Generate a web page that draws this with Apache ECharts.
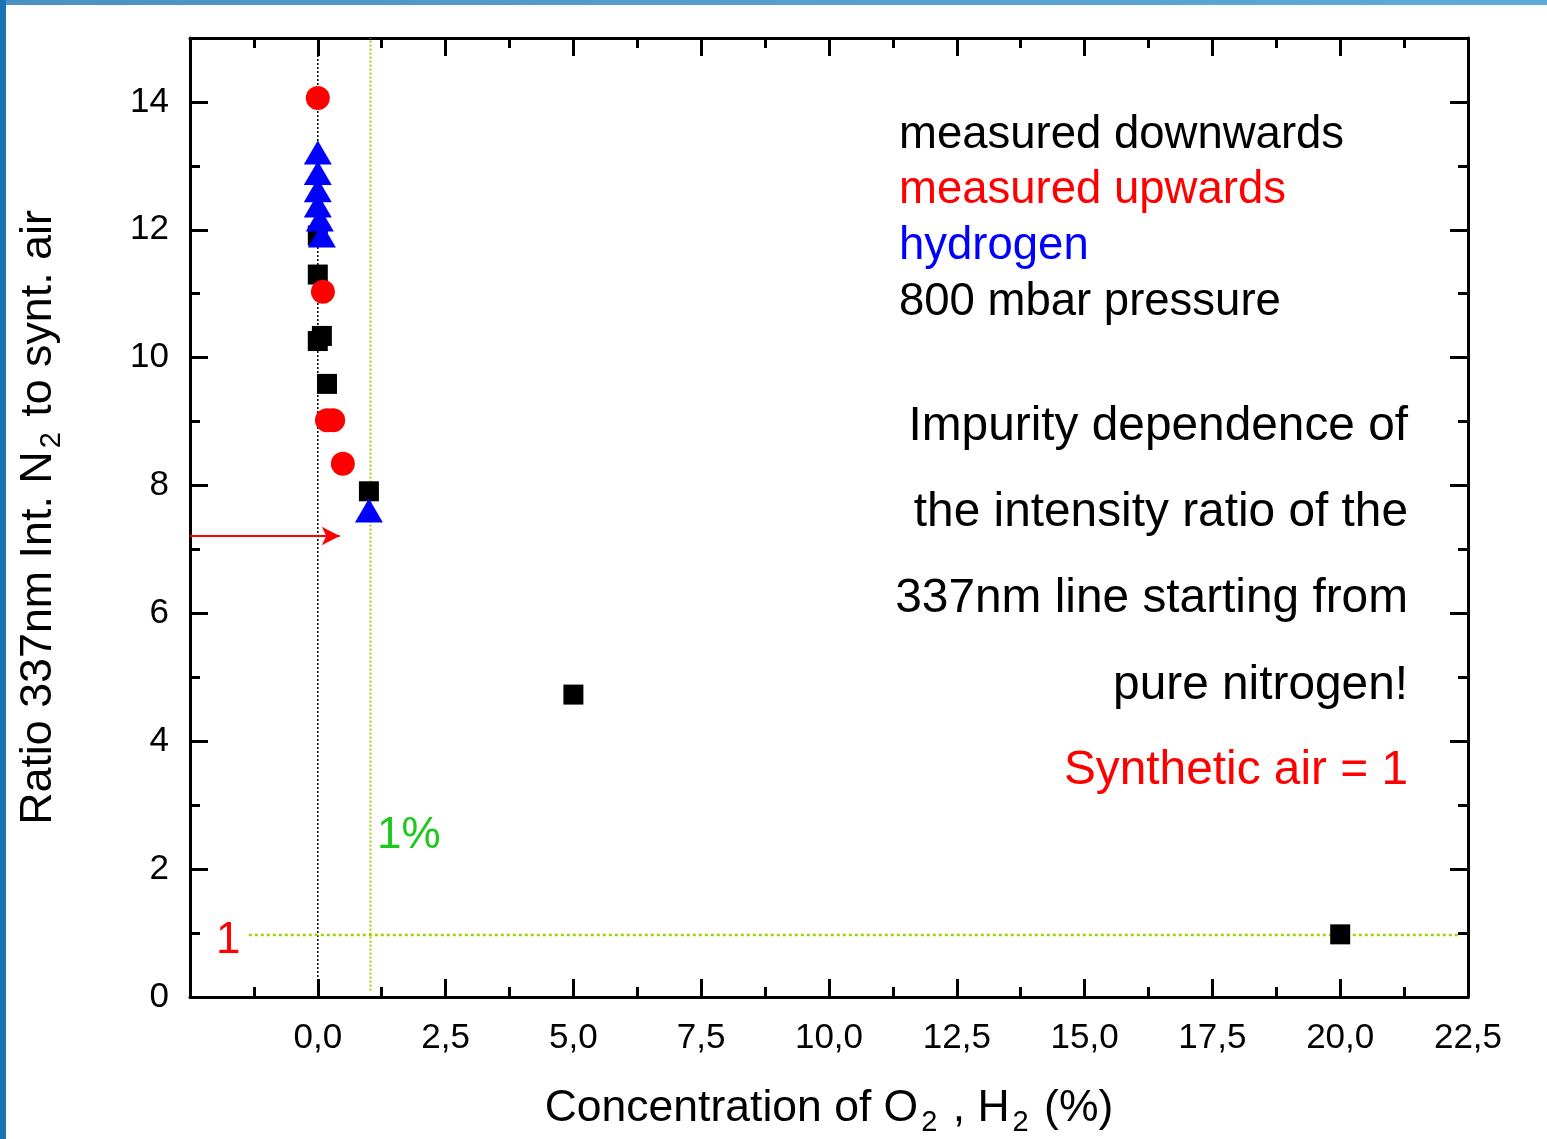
<!DOCTYPE html>
<html>
<head>
<meta charset="utf-8">
<script src="https://cdn.jsdelivr.net/npm/echarts@6/dist/echarts.min.js"></script>
<style>
html,body{margin:0;padding:0;background:#fff;}
#chart{position:absolute;left:0;top:0;width:1547px;height:1139px;}
#topbar{position:absolute;left:0;top:0;width:1547px;height:5px;background:linear-gradient(90deg,#4a92c6,#5eaadb);z-index:2;}
#leftbar{position:absolute;left:0;top:0;width:6px;height:1139px;background:#1a74b3;z-index:2;}
</style>
</head>
<body>
<div id="chart"></div>
<div id="topbar"></div>
<div id="leftbar"></div>
<script>
// ---- data ----
const downX = [0, 0, 0.08, 0, 0.18, 1.0, 5.0, 20.0];
const downY = [11.91, 11.30, 10.34, 10.26, 9.59, 7.91, 4.73, 0.98];
const upX = [0, 0.1, 0.18, 0.3, 0.49];
const upY = [14.06, 11.03, 9.02, 9.02, 8.34];
const h2X = [0, 0, 0, 0, 0.04, 0.08, 1.0];
const h2Y = [13.21, 12.89, 12.62, 12.38, 12.16, 11.91, 7.61];
const zeroLine = [[0, 0], [0, 15]];
const onePctLine = [[1.03, 0.1], [1.03, 15]];
const unityLine = [[-1.35, 0.97], [22.35, 0.97]];
const arrowFrom = [-2.5, 7.21];
const arrowTo = [0.43, 7.21];
const legendLines = ['measured downwards', 'measured upwards', 'hydrogen', '800 mbar pressure'];
const noteLines = ['Impurity dependence of', 'the intensity ratio of the', '337nm line starting from', 'pure nitrogen!', 'Synthetic air = 1'];

const zip = (xs, ys) => xs.map((x, i) => [x, ys[i]]);
const FONT = '"Liberation Sans", Arial, sans-serif';

const chart = echarts.init(document.getElementById('chart'), null, {renderer: 'canvas'});

const axisCommon = {
  axisLine: {show: true, onZero: false, lineStyle: {color: '#000', width: 3}},
  axisTick: {show: true, inside: true, length: 18, lineStyle: {color: '#000', width: 3}},
  minorTick: {show: true, splitNumber: 2, length: 10, lineStyle: {color: '#000', width: 3}},
  splitLine: {show: false},
  minorSplitLine: {show: false}
};

const fmtX = v => (Math.abs(v + 2.5) < 1e-6) ? '' : v.toFixed(1).replace('.', ',');

chart.setOption({
  animation: false,
  grid: {left: 190, right: 79, top: 38, bottom: 142, containLabel: false, outerBoundsMode: 'none'},
  xAxis: [
    Object.assign({}, axisCommon, {
      type: 'value', min: -2.5, max: 22.5, interval: 2.5, position: 'bottom',
      axisLabel: {show: true, formatter: fmtX, margin: 24, color: '#000', fontSize: 35, fontFamily: FONT},
      name: 'Concentration of O{sub|2} , H{sub|2} (%)',
      nameLocation: 'middle', nameGap: 83,
      nameTextStyle: {color: '#000', fontSize: 44.5, fontFamily: FONT,
        rich: {sub: {fontSize: 29, fontFamily: FONT, color: '#000', padding: [28, 3, 0, 3]}}}
    }),
    Object.assign({}, axisCommon, {
      type: 'value', min: -2.5, max: 22.5, interval: 2.5, position: 'top',
      axisLabel: {show: false}
    })
  ],
  yAxis: [
    Object.assign({}, axisCommon, {
      type: 'value', min: 0, max: 15, interval: 2, position: 'left',
      axisLabel: {show: true, margin: 21, color: '#000', fontSize: 35, fontFamily: FONT,
        formatter: v => (v > 14 ? '' : String(v))},
      name: 'Ratio 337nm Int. N{sub|2} to synt. air',
      nameLocation: 'middle', nameGap: 124, nameRotate: 90,
      nameTextStyle: {color: '#000', fontSize: 44.8, fontFamily: FONT,
        rich: {sub: {fontSize: 29, fontFamily: FONT, color: '#000', padding: [26, 3, 0, 3]}}}
    }),
    Object.assign({}, axisCommon, {
      type: 'value', min: 0, max: 15, interval: 2, position: 'right',
      axisLabel: {show: false}
    })
  ],
  series: [
    {
      type: 'line', data: zeroLine, symbol: 'none', silent: true,
      lineStyle: {color: '#000', width: 1.5, type: [2, 2]}, z: 1
    },
    {
      type: 'line', data: onePctLine, symbol: 'none', silent: true,
      lineStyle: {color: '#a2d000', width: 2, type: [2, 2]}, z: 1
    },
    {
      type: 'line', data: unityLine, symbol: 'none', silent: true,
      lineStyle: {color: '#a2d000', width: 2.5, type: [3, 3]}, z: 1,
      markLine: {
        silent: true, symbol: ['none', 'arrow'], symbolSize: [14, 18],
        label: {show: false},
        lineStyle: {color: '#ff0000', width: 2, type: 'solid'},
        data: [[{coord: arrowFrom}, {coord: arrowTo}]]
      }
    },
    {
      name: 'measured downwards', type: 'scatter', data: zip(downX, downY),
      symbol: 'rect', symbolSize: 20, itemStyle: {color: '#000', opacity: 1}, z: 3
    },
    {
      name: 'measured upwards', type: 'scatter', data: zip(upX, upY),
      symbol: 'circle', symbolSize: 24, itemStyle: {color: '#ff0000', opacity: 1}, z: 4
    },
    {
      name: 'hydrogen', type: 'scatter', data: zip(h2X, h2Y),
      symbol: 'triangle', symbolSize: [28, 24], itemStyle: {color: '#0000ff', opacity: 1}, z: 5
    }
  ],
  graphic: [
    {type: 'text', left: 899, top: 112, style: {text: legendLines[0], font: '45.5px ' + FONT, fill: '#000'}},
    {type: 'text', left: 899, top: 167, style: {text: legendLines[1], font: '45.5px ' + FONT, fill: '#ff0000'}},
    {type: 'text', left: 899, top: 223, style: {text: legendLines[2], font: '45.5px ' + FONT, fill: '#0000ff'}},
    {type: 'text', left: 899, top: 279, style: {text: legendLines[3], font: '45.5px ' + FONT, fill: '#000'}},
    {type: 'text', right: 1547 - 1408, top: 403, style: {text: noteLines[0], font: '47.8px ' + FONT, fill: '#000'}},
    {type: 'text', right: 1547 - 1408, top: 489, style: {text: noteLines[1], font: '47.8px ' + FONT, fill: '#000'}},
    {type: 'text', right: 1547 - 1408, top: 575, style: {text: noteLines[2], font: '47.8px ' + FONT, fill: '#000'}},
    {type: 'text', right: 1547 - 1408, top: 662, style: {text: noteLines[3], font: '47.8px ' + FONT, fill: '#000'}},
    {type: 'text', right: 1547 - 1408, top: 747, style: {text: noteLines[4], font: '47.8px ' + FONT, fill: '#ff0000'}},
    {type: 'text', left: 216, top: 919, style: {text: '1', font: '44px ' + FONT, fill: '#ff0000'}},
    {type: 'text', left: 377, top: 814, style: {text: '1%', font: '44px ' + FONT, fill: '#1ec81e'}}
  ]
});
</script>
</body>
</html>
